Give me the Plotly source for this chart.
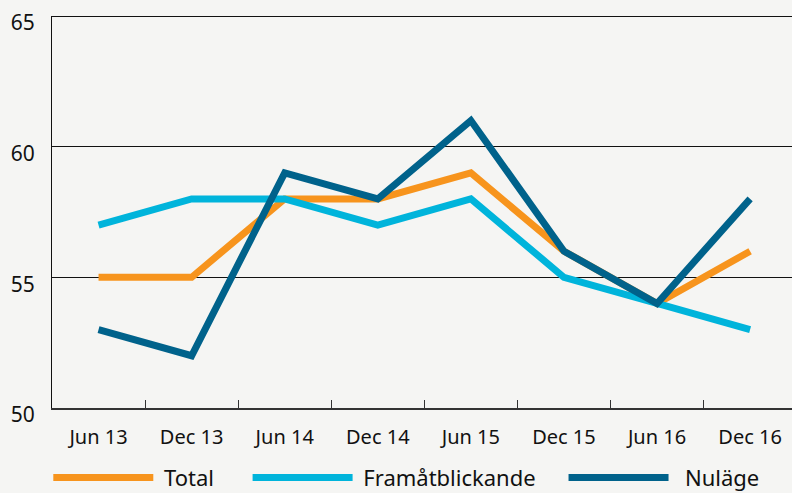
import plotly.graph_objects as go

periods = ['Jun 13', 'Dec 13', 'Jun 14', 'Dec 14', 'Jun 15', 'Dec 15', 'Jun 16', 'Dec 16']
total = [55, 55, 58, 58, 59, 56, 54, 56]
framat = [57, 58, 58, 57, 58, 55, 54, 53]
nulage = [53, 52, 59, 58, 61, 56, 54, 58]

BG = '#F5F5F3'
FONT = 'Noto Sans, Open Sans, sans-serif'
NB = '\u00a0'

fig = go.Figure()
for name, vals, col in [(NB + 'Total' + NB * 5, total, '#F7941D'),
                        (NB + 'Framåtblickande' + NB * 4, framat, '#00B4DB'),
                        (NB + NB + 'Nuläge', nulage, '#00628B')]:
    fig.add_trace(go.Scatter(x=periods, y=vals, name=name, mode='lines',
                             line=dict(color=col, width=7)))

# top border line at 65
fig.add_shape(type='line', xref='paper', yref='y', x0=0, x1=1, y0=65, y1=65,
              line=dict(color='#111111', width=2))

fig.update_layout(
    width=792, height=493, paper_bgcolor=BG, plot_bgcolor=BG,
    margin=dict(l=52, r=0, t=16, b=85, autoexpand=False),
    font=dict(family=FONT, color='#111111', size=20),
    legend=dict(orientation='h', x=-0.005, xanchor='left', y=-0.178, yanchor='middle',
                itemwidth=100, font=dict(size=22), bgcolor='rgba(0,0,0,0)'),
    xaxis=dict(range=[-0.5, 7.45], showgrid=False, showline=True, linecolor='#333333',
               linewidth=1.5, ticks='inside', tickson='boundaries', ticklen=8,
               tickcolor='#333333', tickfont=dict(size=20), ticklabelstandoff=10,
               zeroline=False, automargin=False),
    yaxis=dict(range=[50, 65], tickvals=[50, 55, 60, 65], showgrid=True,
               gridcolor='#111111', gridwidth=1.2, showline=True, linecolor='#111111',
               linewidth=1, ticks='', tickfont=dict(size=21), ticklabelstandoff=12,
               ticklabelshift=7, zeroline=False, automargin=False),
)

fig.write_html('out.html', config={'displayModeBar': False},
               post_script="document.body.style.margin='0';"
                           "document.body.style.background='#F5F5F3';")
